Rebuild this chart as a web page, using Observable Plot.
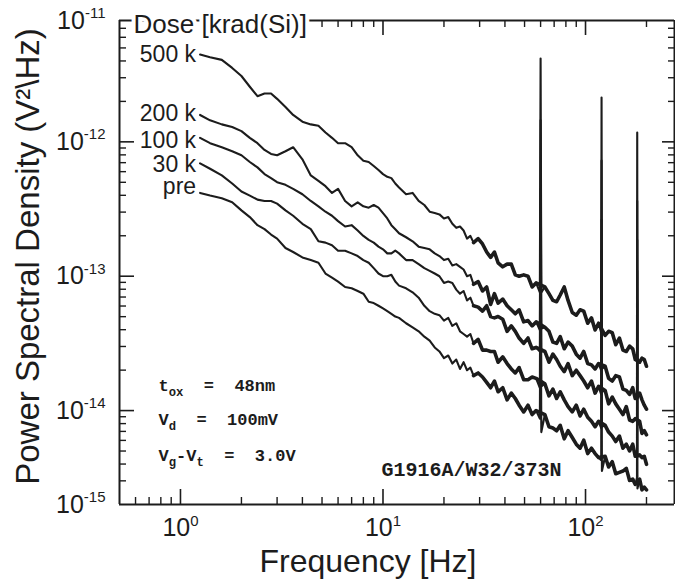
<!DOCTYPE html>
<html><head><meta charset="utf-8">
<script src="https://cdn.jsdelivr.net/npm/d3@7"></script>
<script src="https://cdn.jsdelivr.net/npm/@observablehq/plot@0.6"></script>
<style>
html,body{margin:0;padding:0;background:#fff;}
#chart svg{display:block;}
</style></head><body><div id="chart"></div>
<script>
// Frequency bins [Hz]
const freq = [
 1.25,1.4,1.6,1.8,2.0,2.2,2.4,2.6,2.8,3.0,
 3.3,3.6,4.0,4.4,4.8,5.2,5.6,6.0,6.5,7.0,
 7.5,8.0,8.5,9.0,9.5,10,10.5,11,11.5,12,
 13,14,15,16,17,18,19,
 20,21,22,23,24,25,26,27,28,29.5,
 31,32.5,34,35.5,37,39,41,43,45,47,
 49.5,52,54.5,57,59.5,60,60.5,63,66,69,
 72,75,78.5,82,86,90,94,98,102.5,107,
 111.5,116,119.5,120,120.5,125,130,135.5,141,147,
 153,159,165,171,176,179.5,180,180.5,185,190,
 195,200];

// log10 of power spectral density [V^2/Hz], one array per dose
const log500k = [
 -11.35,-11.37,-11.39,-11.45,-11.51,-11.59,-11.66,-11.64,-11.64,-11.68,
 -11.74,-11.80,-11.85,-11.87,-11.88,-11.93,-11.97,-12.01,-12.01,-12.04,
 -12.10,-12.14,-12.15,-12.18,-12.21,-12.24,-12.26,-12.27,-12.31,-12.34,
 -12.39,-12.38,-12.44,-12.47,-12.52,-12.53,-12.54,
 -12.57,-12.56,-12.61,-12.64,-12.63,-12.66,-12.72,-12.70,-12.75,-12.72,
 -12.76,-12.82,-12.86,-12.82,-12.90,-12.93,-12.91,-12.91,-12.99,-13.00,
 -12.99,-13.00,-13.08,-13.05,-13.12,-11.38,-13.12,-13.08,-13.13,-13.18,
 -13.19,-13.14,-13.08,-13.18,-13.27,-13.29,-13.25,-13.26,-13.35,-13.31,
 -13.40,-13.35,-13.42,-11.67,-13.41,-13.44,-13.41,-13.42,-13.51,-13.46,
 -13.55,-13.56,-13.52,-13.54,-13.62,-13.58,-11.93,-13.61,-13.64,-13.61,
 -13.62,-13.67];
const log200k = [
 -11.80,-11.84,-11.87,-11.89,-11.92,-11.97,-12.01,-12.06,-12.09,-12.10,
 -12.07,-12.04,-12.13,-12.25,-12.29,-12.33,-12.38,-12.35,-12.44,-12.48,
 -12.45,-12.48,-12.49,-12.47,-12.49,-12.53,-12.57,-12.62,-12.65,-12.68,
 -12.71,-12.74,-12.78,-12.79,-12.80,-12.83,-12.85,
 -12.88,-12.87,-12.92,-12.91,-12.93,-12.95,-13.00,-12.99,-13.06,-13.04,
 -13.11,-13.08,-13.21,-13.13,-13.20,-13.17,-13.22,-13.25,-13.28,-13.25,
 -13.34,-13.33,-13.37,-13.34,-13.40,-11.84,-13.39,-13.38,-13.41,-13.49,
 -13.50,-13.45,-13.54,-13.49,-13.52,-13.58,-13.61,-13.56,-13.65,-13.66,
 -13.69,-13.65,-13.70,-12.14,-13.69,-13.67,-13.76,-13.78,-13.74,-13.75,
 -13.84,-13.85,-13.88,-13.83,-13.91,-13.87,-12.44,-13.91,-13.87,-13.92,
 -13.96,-13.99];
const log100k = [
 -11.97,-12.01,-12.04,-12.07,-12.10,-12.15,-12.19,-12.24,-12.27,-12.30,
 -12.32,-12.35,-12.39,-12.44,-12.48,-12.52,-12.55,-12.59,-12.63,-12.62,
 -12.66,-12.70,-12.73,-12.75,-12.78,-12.80,-12.83,-12.83,-12.81,-12.83,
 -12.88,-12.88,-12.91,-12.94,-12.96,-12.98,-13.00,
 -13.05,-13.04,-13.05,-13.10,-13.13,-13.11,-13.18,-13.16,-13.22,-13.23,
 -13.26,-13.22,-13.30,-13.31,-13.30,-13.32,-13.41,-13.37,-13.41,-13.46,
 -13.50,-13.46,-13.54,-13.53,-13.56,-12.35,-13.56,-13.56,-13.64,-13.58,
 -13.62,-13.67,-13.71,-13.65,-13.74,-13.70,-13.74,-13.78,-13.83,-13.78,
 -13.87,-13.82,-13.88,-12.58,-13.86,-13.85,-13.95,-13.90,-13.95,-13.99,
 -14.03,-13.97,-14.07,-14.08,-14.06,-14.08,-12.73,-14.11,-14.08,-14.17,
 -14.15,-14.18];
const log30k = [
 -12.16,-12.20,-12.25,-12.31,-12.37,-12.40,-12.43,-12.44,-12.44,-12.46,
 -12.51,-12.55,-12.61,-12.65,-12.74,-12.75,-12.77,-12.81,-12.81,-12.83,
 -12.85,-12.88,-12.90,-12.94,-12.98,-13.00,-13.00,-12.99,-13.04,-13.07,
 -13.09,-13.12,-13.16,-13.22,-13.26,-13.28,-13.29,
 -13.33,-13.31,-13.37,-13.35,-13.41,-13.43,-13.45,-13.43,-13.50,-13.47,
 -13.55,-13.55,-13.56,-13.56,-13.64,-13.60,-13.65,-13.69,-13.72,-13.68,
 -13.77,-13.77,-13.75,-13.76,-13.83,-12.62,-13.82,-13.80,-13.89,-13.84,
 -13.91,-13.86,-13.92,-13.97,-14.01,-13.96,-14.04,-13.99,-14.05,-14.08,
 -14.12,-14.08,-14.13,-12.81,-14.12,-14.11,-14.16,-14.19,-14.23,-14.19,
 -14.28,-14.25,-14.30,-14.25,-14.34,-14.29,-12.96,-14.33,-14.33,-14.35,
 -14.34,-14.40];
const logPre = [
 -12.38,-12.40,-12.42,-12.45,-12.51,-12.56,-12.62,-12.65,-12.69,-12.72,
 -12.79,-12.82,-12.86,-12.88,-12.90,-12.98,-13.01,-13.04,-13.08,-13.09,
 -13.11,-13.13,-13.19,-13.20,-13.22,-13.24,-13.26,-13.28,-13.30,-13.31,
 -13.35,-13.38,-13.41,-13.45,-13.48,-13.53,-13.56,
 -13.61,-13.59,-13.65,-13.62,-13.69,-13.64,-13.70,-13.68,-13.74,-13.72,
 -13.75,-13.79,-13.83,-13.78,-13.86,-13.83,-13.92,-13.87,-13.91,-13.96,
 -14.01,-13.96,-14.03,-14.00,-14.06,-12.88,-14.16,-14.03,-14.12,-14.13,
 -14.15,-14.11,-14.21,-14.15,-14.20,-14.25,-14.28,-14.22,-14.32,-14.28,
 -14.32,-14.35,-14.37,-13.03,-14.45,-14.34,-14.42,-14.38,-14.47,-14.46,
 -14.45,-14.43,-14.52,-14.51,-14.55,-14.50,-13.18,-14.58,-14.51,-14.59,
 -14.57,-14.59];

const doses = ["500 k", "200 k", "100 k", "30 k", "pre"];
const mainsHarmonics = [60, 120, 180];
const xMajorTicks = [1, 10, 100];
const xMinorTicks = [0.6,0.7,0.8,0.9,2,3,4,5,6,7,8,9,20,30,40,50,60,70,80,90,200];
const yDomain = [2e-15, 8e-12];
const yMajorTicks = [1e-14, 1e-13, 1e-12];
const yLabelTicks = [2e-15, 1e-14, 1e-13, 1e-12, 8e-12];
const yMinorTicks = [3e-15,4e-15,5e-15,6e-15,7e-15,8e-15,9e-15,
                     2e-14,3e-14,4e-14,5e-14,6e-14,7e-14,8e-14,9e-14,
                     2e-13,3e-13,4e-13,5e-13,6e-13,7e-13,8e-13,9e-13,
                     2e-12,3e-12,4e-12,5e-12,6e-12,7e-12];
const doseTitle = "Dose [krad(Si)]";
const xTitle = "Frequency [Hz]";
const yTitle = "Power Spectral Density (V\u00B2\\Hz)";
const conditions = ["t_{ox}  =  48nm", "V_{d}  =  100mV", "V_{g}-V_{t}  =  3.0V"];
const sampleId = "G1916A/W32/373N";

const series = [log500k, log200k, log100k, log30k, logPre];
const rows = [];
series.forEach((vals, i) => vals.forEach((v, j) => rows.push({dose: doses[i], f: freq[j], psd: Math.pow(10, v)})));
// thicker overlay for the dense high-frequency noise (skipping the mains-harmonic bins)
const noisy = rows.filter(d => d.f >= 28 && !mainsHarmonics.some(h => Math.abs(d.f - h) <= 0.5));
const starts = series.map((vals, i) => ({dose: doses[i], f: freq[0], psd: Math.pow(10, vals[0])}));

const FH = 484, FW = 555; // frame size in px
const ink = "#1c1c1c";
const sup = d => `10^{${Math.round(Math.log10(d))}}`;
const mono = "'Liberation Mono', 'Courier New', monospace";
const labelDy = [0, -1, 3, 1, -6];

const chart = Plot.plot({
  width: 675, height: 580,
  marginLeft: 119, marginRight: 1, marginTop: 20, marginBottom: 76,
  x: {type: "log", domain: [0.5, 275], axis: null},
  y: {type: "log", domain: yDomain, axis: null},
  style: {fontFamily: "'Liberation Sans', Arial, Helvetica, sans-serif", background: "#fff", color: ink},
  marks: [
    // curves
    Plot.line(rows, {x: "f", y: "psd", z: "dose", stroke: ink, strokeWidth: 2.1, strokeLinejoin: "round"}),
    Plot.line(noisy, {x: "f", y: "psd", z: "dose", stroke: ink, strokeWidth: 3.6, strokeLinejoin: "round"}),
    // frame
    Plot.ruleX([0.5, 275], {stroke: ink, strokeWidth: 2}),
    Plot.ruleY(yDomain, {stroke: ink, strokeWidth: 2}),
    // inward ticks
    Plot.ruleX(xMajorTicks, {insetTop: FH - 15, stroke: ink, strokeWidth: 1.6}),
    Plot.ruleX(xMinorTicks, {insetTop: FH - 7, stroke: ink, strokeWidth: 1.4}),
    Plot.ruleX(xMajorTicks.filter(v => v > 4.5), {insetBottom: FH - 15, stroke: ink, strokeWidth: 1.6}),
    Plot.ruleX(xMinorTicks.filter(v => v > 4.5), {insetBottom: FH - 7, stroke: ink, strokeWidth: 1.4}),
    Plot.ruleY(yMajorTicks, {insetRight: FW - 15, stroke: ink, strokeWidth: 1.6}),
    Plot.ruleY(yMinorTicks, {insetRight: FW - 7, stroke: ink, strokeWidth: 1.4}),
    Plot.ruleY(yMajorTicks, {insetLeft: FW - 12, stroke: ink, strokeWidth: 1.6}),
    Plot.ruleY(yMinorTicks, {insetLeft: FW - 6, stroke: ink, strokeWidth: 1.4}),
    // tick labels
    Plot.text(xMajorTicks, {x: d => d, text: sup, frameAnchor: "bottom", textAnchor: "middle", lineAnchor: "top", dy: 14, fontSize: 25, fill: ink}),
    Plot.text(yLabelTicks, {y: d => d, text: sup, frameAnchor: "left", textAnchor: "end", lineAnchor: "middle", dx: -14, fontSize: 25, fill: ink}),
    // axis titles
    Plot.text([xTitle], {frameAnchor: "bottom", textAnchor: "middle", lineAnchor: "middle", dx: -29, dy: 57, fontSize: 32, fill: ink}),
    Plot.text([yTitle], {frameAnchor: "left", textAnchor: "middle", lineAnchor: "middle", rotate: -90, dx: -91, dy: -6, fontSize: 33, fill: ink}),
    // dose labels
    Plot.text([doseTitle], {frameAnchor: "top-left", dx: 14, dy: 4, textAnchor: "start", lineAnchor: "middle", fontSize: 26, fill: ink, stroke: "#fff", strokeWidth: 8}),
    ...starts.map((s, i) => Plot.text([s], {x: "f", y: "psd", text: "dose", textAnchor: "end", lineAnchor: "middle", dx: -4, dy: labelDy[i], fontSize: 23, fill: ink})),
    // measurement conditions
    Plot.text([conditions[0]], {frameAnchor: "bottom-left", dx: 39, dy: -119, textAnchor: "start", lineAnchor: "middle", fontSize: 17, fontWeight: "bold", fontFamily: mono, fill: ink}),
    Plot.text([conditions[1]], {frameAnchor: "bottom-left", dx: 39, dy: -85, textAnchor: "start", lineAnchor: "middle", fontSize: 17, fontWeight: "bold", fontFamily: mono, fill: ink}),
    Plot.text([conditions[2]], {frameAnchor: "bottom-left", dx: 39, dy: -49, textAnchor: "start", lineAnchor: "middle", fontSize: 17, fontWeight: "bold", fontFamily: mono, fill: ink}),
    Plot.text([sampleId], {frameAnchor: "bottom-left", dx: 262, dy: -35, textAnchor: "start", lineAnchor: "middle", fontSize: 20, fontWeight: "bold", fontFamily: mono, fill: ink})
  ]
});
document.getElementById("chart").appendChild(chart);

// rich text: ^{...} superscript, _{...} subscript
chart.querySelectorAll("text").forEach(t => {
  const s = t.textContent;
  if (!/[\^_]\{/.test(s)) return;
  const b = parseFloat(getComputedStyle(t).fontSize) || 16;
  t.textContent = "";
  t.style.whiteSpace = "pre";
  let cur = 0;
  const re = /([\^_])\{([^}]*)\}|([^\^_]+)/g;
  let m;
  while ((m = re.exec(s))) {
    const ts = document.createElementNS("http://www.w3.org/2000/svg", "tspan");
    let off = 0;
    if (m[1] === "^") { off = -0.42 * b; ts.setAttribute("font-size", (0.6 * b) + "px"); ts.textContent = m[2]; }
    else if (m[1] === "_") { off = 0.3 * b; ts.setAttribute("font-size", (0.72 * b) + "px"); ts.textContent = m[2]; }
    else { ts.textContent = m[3]; }
    ts.setAttribute("dy", (off - cur) + "px");
    cur = off;
    t.appendChild(ts);
  }
});
</script></body></html>
